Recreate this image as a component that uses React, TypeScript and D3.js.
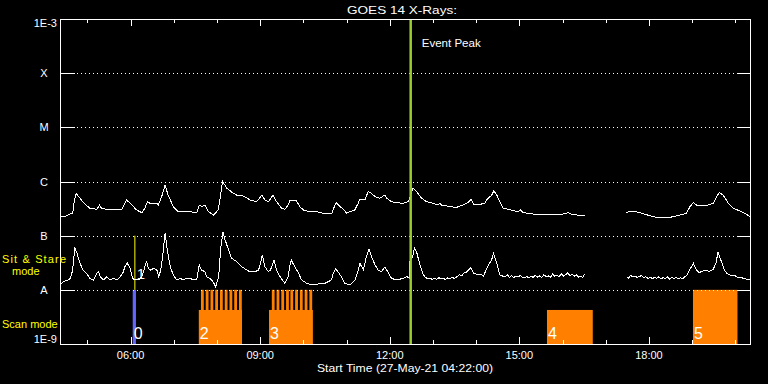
import React from "react";
import * as d3 from "d3";

// ---------- data ----------
const startHour = 4 + 22 / 60; // 04:22 UT
const endHour = 20.34;
const fluxMin = 1e-9;
const fluxMax = 1e-3;

const classLabels = ["A", "B", "C", "M", "X"];
const classFlux = [1e-8, 1e-7, 1e-6, 1e-5, 1e-4];
const edgeLabels = ["1E-9", "1E-3"];

const majorTickHours = [6, 9, 12, 15, 18];
const majorTickLabels = ["06:00", "09:00", "12:00", "15:00", "18:00"];
const minorTickHours = [5, 7, 8, 10, 11, 13, 14, 16, 17, 19, 20];

const titleText = "GOES 14 X-Rays:";
const xAxisTitle = "Start Time (27-May-21 04:22:00)";
const eventPeakHour = 12.485;

// GOES long channel (1-8 A), [hour UT, W/m^2], null = data gap
const longChannel: [number, number | null][] = [
  [4.37, 2.31e-7], [4.48, 2.24e-7], [4.60, 2.51e-7], [4.66, 2.59e-7], [4.69, 3.96e-7], [4.74, 6.05e-7],
  [4.83, 4.9e-7], [4.91, 4.06e-7], [5.06, 3.2e-7], [5.22, 3.07e-7], [5.28, 3.68e-7], [5.33, 3.2e-7],
  [5.45, 3.07e-7], [5.60, 2.98e-7], [5.79, 2.98e-7], [5.83, 3.43e-7], [5.91, 4.55e-7], [5.99, 3.96e-7],
  [6.14, 2.98e-7], [6.26, 2.65e-7], [6.33, 3.2e-7], [6.39, 4.24e-7], [6.45, 3.96e-7], [6.61, 3.96e-7],
  [6.64, 3.68e-7], [6.72, 5.24e-7], [6.80, 8.6e-7], [6.87, 5.6e-7], [6.99, 3.43e-7], [7.10, 2.77e-7],
  [7.38, 2.77e-7], [7.53, 2.65e-7], [7.59, 3.68e-7], [7.65, 3.43e-7], [7.72, 3.68e-7], [7.80, 2.77e-7],
  [7.92, 2.41e-7], [8.03, 2.98e-7], [8.09, 6.05e-7], [8.13, 1.0e-6], [8.23, 7.5e-7], [8.38, 6.05e-7],
  [8.46, 5.6e-7], [8.57, 5.6e-7], [8.77, 4.55e-7], [8.92, 4.24e-7], [9.04, 5.6e-7], [9.11, 4.55e-7],
  [9.19, 4.24e-7], [9.30, 5.6e-7], [9.38, 4.24e-7], [9.50, 3.2e-7], [9.57, 3.07e-7], [9.65, 3.68e-7],
  [9.69, 4.55e-7], [9.77, 4.55e-7], [9.84, 4.4e-7], [9.92, 3.43e-7], [10.00, 2.98e-7], [10.15, 2.77e-7],
  [10.31, 2.77e-7], [10.46, 2.59e-7], [10.66, 2.59e-7], [10.69, 3.07e-7], [10.76, 4.06e-7], [10.85, 3.43e-7],
  [10.93, 3.07e-7], [11.00, 2.59e-7], [11.08, 2.77e-7], [11.19, 2.98e-7], [11.27, 3.96e-7], [11.31, 4.7e-7],
  [11.43, 4.7e-7], [11.50, 6.5e-7], [11.58, 6.05e-7], [11.66, 5.24e-7], [11.77, 4.9e-7], [11.85, 5.4e-7],
  [11.89, 5.6e-7], [11.93, 4.9e-7], [12.04, 4.24e-7], [12.16, 4.06e-7], [12.31, 3.96e-7], [12.43, 4.24e-7],
  [12.47, 5.24e-7], [12.54, 7.5e-7], [12.62, 6.5e-7], [12.74, 4.9e-7], [12.85, 4.24e-7], [13.01, 3.96e-7],
  [13.12, 3.68e-7], [13.16, 3.96e-7], [13.20, 3.68e-7], [13.32, 3.53e-7], [13.39, 3.43e-7], [13.55, 3.34e-7],
  [13.70, 3.68e-7], [13.82, 4.13e-7], [13.88, 4.7e-7], [13.95, 3.79e-7], [14.09, 3.79e-7], [14.20, 3.96e-7],
  [14.24, 4.55e-7], [14.36, 5.6e-7], [14.41, 6.7e-7], [14.48, 5.6e-7], [14.55, 4.24e-7], [14.63, 3.2e-7],
  [14.74, 3.07e-7], [14.86, 2.89e-7], [14.98, 2.77e-7], [15.03, 2.98e-7], [15.09, 2.65e-7], [15.21, 2.59e-7],
  [15.32, 2.51e-7], [15.48, 2.48e-7], [15.63, 2.44e-7], [15.86, 2.44e-7], [16.02, 2.51e-7], [16.13, 2.65e-7],
  [16.21, 2.48e-7], [16.33, 2.41e-7], [16.44, 2.38e-7], [16.51, 2.31e-7],
  [16.95, null],
  [17.47, 2.7e-7], [17.64, 2.85e-7], [17.79, 2.65e-7], [18.02, 2.34e-7], [18.18, 2.18e-7], [18.49, 2.18e-7],
  [18.72, 2.41e-7], [18.87, 2.59e-7], [18.95, 3.43e-7], [19.03, 4.06e-7], [19.10, 3.68e-7], [19.18, 3.68e-7],
  [19.30, 3.53e-7], [19.41, 3.79e-7], [19.49, 3.96e-7], [19.57, 5.24e-7], [19.63, 6.3e-7], [19.72, 5.6e-7],
  [19.84, 3.96e-7], [19.95, 3.2e-7], [20.11, 2.85e-7], [20.22, 2.59e-7], [20.34, 2.24e-7],
];

// GOES short channel (0.5-4 A), [hour UT, W/m^2], null = data gap
const shortChannel: [number, number | null][] = [
  [4.39, 1.28e-8], [4.44, 1.41e-8], [4.56, 1.52e-8], [4.61, 1.63e-8], [4.66, 2.32e-8], [4.71, 6.1e-8],
  [4.76, 4.72e-8], [4.83, 3.09e-8], [4.90, 2.32e-8], [4.98, 2.02e-8], [5.06, 1.63e-8], [5.14, 1.52e-8],
  [5.22, 2.02e-8], [5.26, 2.16e-8], [5.30, 1.75e-8], [5.37, 1.52e-8], [5.45, 1.75e-8], [5.53, 1.52e-8],
  [5.60, 1.63e-8], [5.68, 1.52e-8], [5.76, 1.75e-8], [5.82, 2.02e-8], [5.87, 2.67e-8], [5.92, 3.17e-8],
  [5.99, 2.5e-8], [6.05, 1.63e-8], [6.10, 1.52e-8], [6.18, 1.52e-8], [6.26, 1.75e-8], [6.31, 2.32e-8],
  [6.37, 3.45e-8], [6.41, 2.5e-8], [6.46, 2.32e-8], [6.54, 2.5e-8], [6.61, 2.32e-8], [6.65, 1.75e-8],
  [6.70, 2.32e-8], [6.75, 4.72e-8], [6.80, 1.13e-7], [6.85, 5.43e-8], [6.92, 2.67e-8], [6.99, 1.88e-8],
  [7.07, 1.52e-8], [7.15, 1.63e-8], [7.22, 1.52e-8], [7.30, 1.63e-8], [7.38, 1.63e-8], [7.45, 1.52e-8],
  [7.53, 1.52e-8], [7.59, 2.87e-8], [7.64, 2.32e-8], [7.72, 2.16e-8], [7.76, 1.75e-8], [7.84, 1.63e-8],
  [7.91, 1.41e-8], [7.97, 1.14e-8], [8.04, 1.75e-8], [8.09, 6.25e-8], [8.14, 1.15e-7], [8.19, 8.3e-8],
  [8.27, 5.43e-8], [8.34, 3.82e-8], [8.46, 3.31e-8], [8.57, 2.67e-8], [8.76, 2.16e-8], [8.88, 2.16e-8],
  [8.96, 2.32e-8], [8.99, 2.67e-8], [9.05, 4.4e-8], [9.11, 2.67e-8], [9.19, 2.16e-8], [9.24, 2.32e-8],
  [9.32, 3.56e-8], [9.38, 2.32e-8], [9.46, 1.75e-8], [9.57, 1.32e-8], [9.65, 1.75e-8], [9.68, 2.67e-8],
  [9.72, 3.56e-8], [9.80, 2.67e-8], [9.89, 2.02e-8], [9.96, 1.52e-8], [10.08, 1.32e-8], [10.19, 1.23e-8],
  [10.27, 1.23e-8], [10.38, 1.32e-8], [10.50, 1.32e-8], [10.65, 1.52e-8], [10.69, 2.02e-8], [10.75, 2.42e-8],
  [10.80, 2.16e-8], [10.88, 1.75e-8], [10.96, 1.32e-8], [11.08, 1.23e-8], [11.20, 1.52e-8], [11.27, 2.32e-8],
  [11.31, 3.09e-8], [11.39, 2.32e-8], [11.45, 3.82e-8], [11.52, 5.6e-8], [11.58, 4.09e-8], [11.66, 2.87e-8],
  [11.73, 2.32e-8], [11.81, 2.16e-8], [11.89, 2.67e-8], [11.93, 2.32e-8], [12.04, 1.63e-8], [12.16, 1.52e-8],
  [12.31, 1.63e-8], [12.40, 1.75e-8], [12.46, 1.63e-8], [12.47, 3.56e-8], [12.53, 3.99e-8], [12.57, 6.0e-8],
  [12.63, 4.72e-8], [12.70, 2.87e-8], [12.78, 1.88e-8], [12.83, 1.7e-8], [12.88, 1.6e-8], [12.93, 1.66e-8],
  [12.98, 1.55e-8], [13.03, 1.62e-8], [13.09, 1.56e-8], [13.14, 1.68e-8], [13.19, 1.58e-8], [13.24, 1.63e-8],
  [13.29, 1.55e-8], [13.34, 1.66e-8], [13.39, 1.63e-8], [13.45, 1.7e-8], [13.50, 1.62e-8], [13.56, 1.75e-8],
  [13.62, 1.9e-8], [13.67, 1.82e-8], [13.71, 2.02e-8], [13.77, 2.1e-8], [13.82, 2.32e-8], [13.88, 2.56e-8],
  [13.94, 2.02e-8], [14.00, 1.95e-8], [14.05, 1.88e-8], [14.11, 1.92e-8], [14.17, 1.8e-8], [14.23, 2.32e-8],
  [14.31, 3.09e-8], [14.36, 3.6e-8], [14.40, 4.72e-8], [14.44, 3.8e-8], [14.48, 3.09e-8], [14.55, 1.88e-8],
  [14.61, 1.8e-8], [14.67, 1.75e-8], [14.72, 1.9e-8], [14.77, 1.7e-8], [14.82, 1.82e-8], [14.87, 1.68e-8],
  [14.92, 1.8e-8], [14.97, 1.72e-8], [15.02, 1.85e-8], [15.07, 1.7e-8], [15.12, 1.66e-8], [15.17, 1.78e-8],
  [15.22, 1.65e-8], [15.27, 1.8e-8], [15.32, 1.7e-8], [15.37, 1.86e-8], [15.42, 1.72e-8], [15.47, 1.8e-8],
  [15.52, 1.68e-8], [15.57, 1.9e-8], [15.62, 1.75e-8], [15.67, 1.82e-8], [15.72, 1.7e-8], [15.77, 1.95e-8],
  [15.82, 1.78e-8], [15.87, 1.85e-8], [15.92, 1.72e-8], [15.97, 2.0e-8], [16.02, 1.8e-8], [16.07, 1.9e-8],
  [16.12, 2.05e-8], [16.17, 1.82e-8], [16.22, 1.95e-8], [16.27, 1.78e-8], [16.32, 1.9e-8], [16.37, 1.72e-8],
  [16.42, 1.8e-8], [16.47, 1.7e-8], [16.51, 1.96e-8],
  [16.95, null],
  [17.48, 1.75e-8], [17.53, 1.65e-8], [17.58, 1.85e-8], [17.63, 1.72e-8], [17.68, 1.8e-8], [17.73, 1.68e-8],
  [17.78, 1.78e-8], [17.83, 1.82e-8], [17.88, 1.7e-8], [17.93, 1.75e-8], [17.98, 1.62e-8], [18.03, 1.72e-8],
  [18.08, 1.6e-8], [18.13, 1.7e-8], [18.18, 1.62e-8], [18.23, 1.74e-8], [18.28, 1.6e-8], [18.33, 1.68e-8],
  [18.38, 1.62e-8], [18.43, 1.72e-8], [18.48, 1.58e-8], [18.53, 1.68e-8], [18.58, 1.62e-8], [18.63, 1.7e-8],
  [18.68, 1.6e-8], [18.73, 1.66e-8], [18.79, 1.63e-8], [18.88, 1.88e-8], [18.94, 2.32e-8], [19.03, 3.09e-8],
  [19.10, 2.32e-8], [19.16, 2.1e-8], [19.22, 2.16e-8], [19.28, 2.3e-8], [19.33, 2.32e-8], [19.39, 2.2e-8],
  [19.44, 2.28e-8], [19.49, 2.39e-8], [19.55, 3.09e-8], [19.60, 4.93e-8], [19.64, 4.0e-8], [19.68, 3.31e-8],
  [19.75, 2.32e-8], [19.81, 2.0e-8], [19.87, 1.88e-8], [19.93, 1.8e-8], [19.98, 1.85e-8], [20.03, 1.75e-8],
  [20.08, 1.68e-8], [20.13, 1.72e-8], [20.18, 1.63e-8], [20.24, 1.6e-8], [20.29, 1.55e-8], [20.34, 1.52e-8],
];

// observing periods: start/end hour, top level (flux units on the y axis), label, mode
const observingLabels = ["0", "2", "3", "4", "5"];
const observingStart = [6.05, 7.58, 9.205, 15.64, 19.02];
const observingEnd = [6.125, 8.58, 10.22, 16.70, 20.05];
const observingTop = [1e-8, 4.25e-9, 4.25e-9, 4.25e-9, 1e-8];
const observingMode = ["sit", "scan", "scan", "scan", "scan"];

// short sit-and-stare sub-exposures inside scans 2 and 3
const stripeStarts = [
  7.63, 7.74, 7.85, 7.96, 8.07, 8.18, 8.29, 8.40, 8.51,
  9.27, 9.38, 9.49, 9.60, 9.70, 9.81, 9.92, 10.03, 10.14,
];
const stripeDuration = 0.065;
const stripeTop = 1e-8;

// sit & stare marker "1"
const sitStareHour = 6.1;
const sitStareLow = 1e-8;
const sitStareHigh = 1e-7;

// ---------- component ----------
const W = 768;
const H = 384;
const M = { left: 60, right: 18, top: 19, bottom: 40 };
const FONT = "'Liberation Sans', Arial, sans-serif";

export default function App() {
  const x = d3.scaleLinear().domain([startHour, endHour]).range([M.left, W - M.right]);
  const y = d3.scaleLog().domain([fluxMin, fluxMax]).range([H - M.bottom, M.top]);
  const x0 = M.left;
  const x1 = W - M.right;
  const y0 = H - M.bottom;
  const y1 = M.top;

  const line = d3
    .line<[number, number | null]>()
    .defined((d) => d[1] != null)
    .x((d) => x(d[0]))
    .y((d) => y(d[1] as number));

  const modeColor: Record<string, string> = { sit: "#6464ff", scan: "#ff8000" };

  return (
    <svg
      width={W}
      height={H}
      style={{ position: "absolute", left: 0, top: 0, display: "block", background: "#000" }}
      fontFamily={FONT}
    >
      <rect x={0} y={0} width={W} height={H} fill="#000" />

      {/* title */}
      <text x={402} y={14} fill="#fff" fontSize={11} textAnchor="middle" textLength={110} lengthAdjust="spacingAndGlyphs">
        {titleText}
      </text>

      {/* observing periods */}
      {observingLabels.map((lab, i) => (
        <rect
          key={"ob" + i}
          x={x(observingStart[i])}
          y={y(observingTop[i])}
          width={x(observingEnd[i]) - x(observingStart[i])}
          height={y(fluxMin) - y(observingTop[i])}
          fill={modeColor[observingMode[i]]}
        />
      ))}
      {stripeStarts.map((s, i) => (
        <rect
          key={"st" + i}
          x={x(s)}
          y={y(stripeTop)}
          width={x(s + stripeDuration) - x(s)}
          height={y(fluxMin) - y(stripeTop)}
          fill="#ff8000"
        />
      ))}

      {/* grid lines (dotted) */}
      {classFlux.map((f, i) => (
        <line
          key={"g" + i}
          x1={x0 + 17}
          x2={x1 - 13}
          y1={Math.round(y(f)) + 0.5}
          y2={Math.round(y(f)) + 0.5}
          stroke="#fff"
          strokeWidth={1}
          strokeDasharray="1 3"
          shapeRendering="crispEdges"
        />
      ))}

      {/* sit & stare marker */}
      <line
        x1={x(sitStareHour)}
        x2={x(sitStareHour)}
        y1={y(sitStareLow)}
        y2={y(sitStareHigh)}
        stroke="#ffff00"
        strokeWidth={1}
      />

      {/* data */}
      <path d={line(longChannel) || ""} fill="none" stroke="#fff" strokeWidth={1} shapeRendering="crispEdges" />
      <path d={line(shortChannel) || ""} fill="none" stroke="#fff" strokeWidth={1} shapeRendering="crispEdges" />

      {/* event peak */}
      <line
        x1={x(eventPeakHour)}
        x2={x(eventPeakHour)}
        y1={y1}
        y2={y0}
        stroke="#9acd32"
        strokeWidth={2.5}
      />
      <text x={x(eventPeakHour) + 11} y={47} fill="#fff" fontSize={11} textLength={59} lengthAdjust="spacingAndGlyphs">
        Event Peak
      </text>

      {/* observing labels */}
      {observingLabels.map((lab, i) => (
        <text
          key={"ol" + i}
          x={x(observingStart[i]) + 1}
          y={y(fluxMin) - 5}
          fill="#fff"
          fontSize={16}
        >
          {lab}
        </text>
      ))}
      <text x={x(sitStareHour) + 2} y={y(sitStareLow) - 11} fill="#fff" fontSize={15}>
        1
      </text>

      {/* frame */}
      <rect
        x={x0 + 0.5}
        y={y1 + 0.5}
        width={x1 - x0}
        height={y0 - y1}
        fill="none"
        stroke="#fff"
        strokeWidth={1}
        shapeRendering="crispEdges"
      />

      {/* y ticks at class levels */}
      {classFlux.map((f, i) => (
        <g key={"yt" + i}>
          <line x1={x0} x2={x0 + 15} y1={Math.round(y(f)) + 0.5} y2={Math.round(y(f)) + 0.5} stroke="#fff" shapeRendering="crispEdges" />
          <line x1={x1 - 13} x2={x1} y1={Math.round(y(f)) + 0.5} y2={Math.round(y(f)) + 0.5} stroke="#fff" shapeRendering="crispEdges" />
          <text x={44} y={y(f) + 4} fill="#fff" fontSize={11} textAnchor="middle">
            {classLabels[i]}
          </text>
        </g>
      ))}
      <text x={57} y={y(fluxMin) - 1} fill="#fff" fontSize={11} textAnchor="end">
        {edgeLabels[0]}
      </text>
      <text x={57} y={y(fluxMax) + 8} fill="#fff" fontSize={11} textAnchor="end">
        {edgeLabels[1]}
      </text>

      {/* x ticks */}
      {majorTickHours.map((h, i) => (
        <g key={"xm" + i}>
          <line x1={Math.round(x(h)) + 0.5} x2={Math.round(x(h)) + 0.5} y1={y0} y2={y0 - 7} stroke="#fff" shapeRendering="crispEdges" />
          <line x1={Math.round(x(h)) + 0.5} x2={Math.round(x(h)) + 0.5} y1={y1} y2={y1 + 7} stroke="#fff" shapeRendering="crispEdges" />
          <text x={x(h)} y={359} fill="#fff" fontSize={11} textAnchor="middle">
            {majorTickLabels[i]}
          </text>
        </g>
      ))}
      {minorTickHours.map((h, i) => (
        <g key={"xn" + i}>
          <line x1={Math.round(x(h)) + 0.5} x2={Math.round(x(h)) + 0.5} y1={y0} y2={y0 - 4} stroke="#fff" shapeRendering="crispEdges" />
          <line x1={Math.round(x(h)) + 0.5} x2={Math.round(x(h)) + 0.5} y1={y1} y2={y1 + 4} stroke="#fff" shapeRendering="crispEdges" />
        </g>
      ))}
      <text x={405} y={372} fill="#fff" fontSize={11} textAnchor="middle" textLength={176} lengthAdjust="spacingAndGlyphs">
        {xAxisTitle}
      </text>

      {/* mode labels */}
      <text x={2} y={263} fill="#ffff00" fontSize={11} textLength={64} lengthAdjust="spacing">
        Sit &amp; Stare
      </text>
      <text x={12} y={275} fill="#ffff00" fontSize={11}>
        mode
      </text>
      <text x={2} y={328} fill="#ffff00" fontSize={11}>
        Scan mode
      </text>
    </svg>
  );
}
